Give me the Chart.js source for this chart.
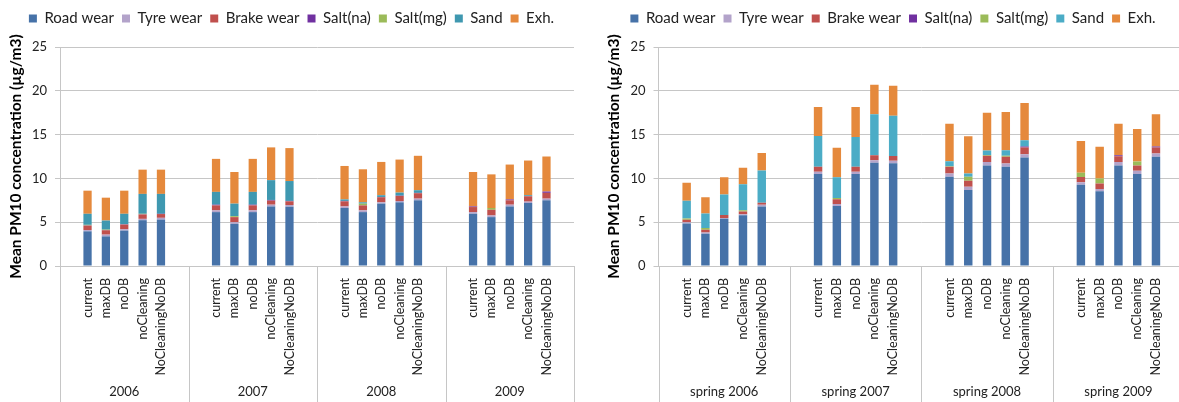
<!DOCTYPE html>
<html><head><meta charset="utf-8">
<script src="https://cdn.jsdelivr.net/npm/chart.js@4.4.1/dist/chart.umd.min.js"></script>
<style>
html,body{margin:0;padding:0;width:1179px;height:402px;overflow:hidden;background:#fff}
.box{position:absolute;top:0;height:402px}
#b1{left:0;width:592px}
#b2{left:598px;width:604px}
</style></head><body>
<div class="box" id="b1"><canvas id="c1"></canvas></div>
<div class="box" id="b2"><canvas id="c2"></canvas></div>
<script>
// ---- categories / labels ----
const scenarios = ['current','maxDB','noDB','noCleaning','NoCleaningNoDB'];
const yearGroups = ['2006','2007','2008','2009'];
const springGroups = ['spring 2006','spring 2007','spring 2008','spring 2009'];
const seriesNames = ['Road wear','Tyre wear','Brake wear','Salt(na)','Salt(mg)','Sand','Exh.'];
const yTickValues = [0,5,10,15,20,25];
const yTitle = 'Mean PM10 concentration (µg/m3)';

// ---- annual values (4 years x 5 scenarios) ----
const annualRoad  = [3.96,3.38,4.04,5.23,5.30, 6.15,4.81,6.15,6.80,6.77, 6.62,6.15,7.12,7.27,7.50, 5.96,5.58,6.80,7.19,7.50];
const annualTyre  = [0.14,0.20,0.15,0.15,0.20, 0.20,0.19,0.20,0.20,0.19, 0.18,0.20,0.15,0.15,0.19, 0.19,0.19,0.20,0.16,0.19];
const annualBrake = [0.50,0.50,0.54,0.50,0.43, 0.57,0.58,0.57,0.46,0.42, 0.58,0.57,0.58,0.58,0.62, 0.58,0.65,0.50,0.61,0.66];
const annualNa    = [0.03,0.02,0.03,0.03,0.03, 0.08,0.00,0.08,0.08,0.05, 0.05,0.00,0.03,0.03,0.04, 0.07,0.00,0.10,0.02,0.15];
const annualMg    = [0.07,0.05,0.00,0.05,0.00, 0.00,0.11,0.00,0.00,0.00, 0.00,0.20,0.00,0.00,0.00, 0.00,0.20,0.00,0.00,0.00];
const annualSand  = [1.26,1.04,1.20,2.27,2.27, 1.46,1.43,1.46,2.26,2.27, 0.17,0.15,0.20,0.35,0.30, 0.00,0.00,0.00,0.10,0.00];
const annualExh   = [2.64,2.61,2.64,2.77,2.77, 3.77,3.61,3.77,3.74,3.76, 3.82,3.77,3.80,3.77,3.93, 3.93,3.84,3.98,3.96,4.00];

// ---- spring values (4 springs x 5 scenarios) ----
const springRoad  = [4.84,3.67,5.39,5.78,6.80, 10.50,6.84,10.50,11.80,11.73, 10.19,8.67,11.48,11.33,12.39, 9.28,8.52,11.48,10.49,12.46];
const springTyre  = [0.16,0.16,0.08,0.12,0.19, 0.27,0.23,0.27,0.28,0.28, 0.38,0.38,0.38,0.37,0.38, 0.27,0.27,0.38,0.38,0.38];
const springBrake = [0.27,0.31,0.35,0.31,0.24, 0.56,0.55,0.56,0.55,0.55, 0.76,0.68,0.72,0.76,0.75, 0.60,0.64,0.68,0.61,0.68];
const springNa    = [0.00,0.00,0.00,0.00,0.00, 0.00,0.00,0.00,0.00,0.00, 0.00,0.00,0.00,0.00,0.12, 0.00,0.00,0.10,0.00,0.12];
const springMg    = [0.16,0.20,0.00,0.16,0.00, 0.00,0.15,0.00,0.00,0.00, 0.06,0.46,0.10,0.12,0.00, 0.49,0.57,0.00,0.45,0.00];
const springSand  = [2.03,1.64,2.34,2.97,3.67, 3.52,2.35,3.40,4.70,4.60, 0.58,0.38,0.50,0.64,0.72, 0.00,0.00,0.00,0.00,0.00];
const springExh   = [2.03,1.87,1.96,1.87,1.99, 3.29,3.38,3.41,3.37,3.41, 4.28,4.24,4.32,4.36,4.24, 3.64,3.60,3.61,3.71,3.67];

const colorsAnnual = ['#4672A8','#B3A3CA','#C0504D','#7030A0','#9BBB59','#3F98B0','#E5893C'];
const colorsSpring = ['#4672A8','#B3A3CA','#C0504D','#7030A0','#9BBB59','#4BACC6','#E5893C'];

const FONT = 'Lato';
const GRID = '#c6c6c6';

// pad each group with an empty slot before and after
function padLabels(groups){
  const out=[];
  groups.forEach(()=>{ out.push(''); scenarios.forEach(s=>out.push(s)); out.push(''); });
  return out;
}
function padData(vals, nGroups){
  const out=[];
  for(let g=0; g<nGroups; g++){
    out.push(null);
    for(let i=0;i<scenarios.length;i++) out.push(vals[g*scenarios.length+i]);
    out.push(null);
  }
  return out;
}

// extra space below the legend
const legendGapPlugin = {
  id:'legendGap',
  beforeLayout(chart){
    const lg = chart.legend;
    if(lg && !lg._gapPatched){
      const f = lg.fit.bind(lg);
      lg.fit = function(){ f(); this.height += 11; };
      lg._gapPatched = true;
    }
  }
};

const separatorPlugin = {
  id:'groupSeparators',
  afterDraw(chart){
    const xs = chart.scales.x, ctx = chart.ctx, area = chart.chartArea;
    const per = scenarios.length + 2;
    const n = xs.getLabels().length;
    ctx.save();
    ctx.strokeStyle = GRID; ctx.lineWidth = 1;
    for(let b=0; b<=n; b+=per){
      let px;
      if(b===0) px = xs.left;
      else if(b===n) px = xs.right;
      else px = (xs.getPixelForValue(b-1)+xs.getPixelForValue(b))/2;
      px = Math.round(px)+0.5;
      ctx.beginPath(); ctx.moveTo(px, area.bottom); ctx.lineTo(px, chart.height); ctx.stroke();
    }
    ctx.restore();
  }
};

function makeChart(id, groups, series, colors, yWidth, padRight){
  const labels = padLabels(groups);
  const datasets = seriesNames.map((name,i)=>({
    label:name, data:padData(series[i], groups.length), backgroundColor:colors[i],
    borderWidth:0, barPercentage:0.45, categoryPercentage:1.0, stack:'s'
  }));
  return new Chart(document.getElementById(id), {
    type:'bar',
    data:{labels, datasets},
    options:{
      responsive:true, maintainAspectRatio:false, animation:false,
      layout:{padding:{top:3,right:padRight,left:0,bottom:0}},
      plugins:{
        legend:{position:'top', labels:{font:{family:FONT,size:15}, color:'#222', boxWidth:8, boxHeight:8, padding:8}},
        tooltip:{enabled:false}
      },
      scales:{
        x:{stacked:true, offset:true, weight:0,
           grid:{display:false, drawTicks:false},
           border:{display:true, color:GRID},
           ticks:{autoSkip:false, maxRotation:90, minRotation:90, font:{family:FONT,size:12.5}, color:'#222', padding:12},
           afterFit:s=>{s.height=113;}},
        x2:{type:'category', labels:groups, position:'bottom', offset:true, weight:1,
            grid:{display:false, drawTicks:false}, border:{display:false},
            ticks:{font:{family:FONT,size:13}, color:'#222', padding:5},
            afterFit:s=>{s.height=23;}},
        y:{stacked:true, min:0, max:25,
           afterBuildTicks:s=>{s.ticks = yTickValues.map(v=>({value:v}));},
           ticks:{font:{family:FONT,size:13}, color:'#222', padding:8},
           grid:{color:GRID, tickLength:5},
           border:{display:true, color:GRID},
           title:{display:true, text:yTitle, font:{family:FONT,size:15.5,weight:'bold'}, color:'#000', padding:{top:7,bottom:3}},
           afterFit:s=>{s.width=yWidth;}}
      }
    },
    plugins:[legendGapPlugin, separatorPlugin]
  });
}

makeChart('c1', yearGroups,
  [annualRoad,annualTyre,annualBrake,annualNa,annualMg,annualSand,annualExh],
  colorsAnnual, 60, 9);
makeChart('c2', springGroups,
  [springRoad,springTyre,springBrake,springNa,springMg,springSand,springExh],
  colorsSpring, 60.5, 14);
</script>
</body></html>
